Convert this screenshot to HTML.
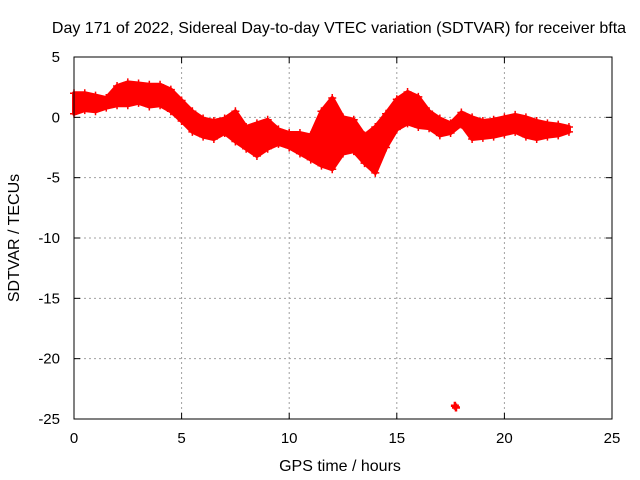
<!DOCTYPE html>
<html><head><meta charset="utf-8"><style>
body{margin:0;background:#fff}
svg{display:block;font-family:"Liberation Sans",sans-serif;font-size:15px}
</style></head><body>
<svg id="c" width="640" height="480">
<text x="339" y="33" text-anchor="middle" font-size="16">Day 171 of 2022, Sidereal Day-to-day VTEC variation (SDTVAR) for receiver bfta</text>
<text x="340" y="471" text-anchor="middle" font-size="16">GPS time / hours</text>
<text transform="translate(19,238) rotate(-90)" text-anchor="middle" font-size="16">SDTVAR / TECUs</text>
<g id="grid"></g><g id="data"></g><g id="axes"></g>
</svg>
<script>
const times=[0,0.5,1,1.5,2,2.5,3,3.5,4,4.5,5,5.5,6,6.5,7,7.5,8,8.5,9,9.5,10,10.5,11,11.5,12,12.5,13,13.5,14,14.5,15,15.5,16,16.5,17,17.5,18,18.5,19,19.5,20,20.5,21,21.5,22,22.5,23];
const upper=[2.0,2.0,1.8,1.6,2.6,2.9,2.8,2.7,2.7,2.3,1.4,0.5,-0.1,-0.3,-0.1,0.5,-0.8,-0.5,-0.2,-1.0,-1.3,-1.3,-1.5,0.5,1.6,0.0,-0.2,-1.5,-0.8,0.3,1.5,2.1,1.7,0.5,-0.1,-0.5,0.4,0.0,-0.3,-0.2,0.0,0.2,0.0,-0.3,-0.5,-0.6,-0.8];
const lower=[0.3,0.6,0.5,0.8,1.0,1.0,1.2,0.9,1.0,0.5,-0.3,-1.2,-1.6,-1.8,-1.3,-2.0,-2.6,-3.2,-2.6,-2.2,-2.5,-3.0,-3.5,-4.0,-4.3,-3.0,-2.8,-3.8,-4.6,-2.5,-1.0,-0.5,-0.8,-0.9,-1.5,-1.3,-0.6,-1.8,-1.7,-1.6,-1.4,-1.2,-1.6,-1.8,-1.6,-1.5,-1.2];
const outlierT=[17.7], outlierV=[-23.9];
const xTicks=[0,5,10,15,20,25], yTicks=[5,0,-5,-10,-15,-20,-25];
const X0=74,X1=612,Y0=57,Y1=419;
const sx=t=>X0+(t-0)/25*(X1-X0);
const sy=v=>Y0+(5-v)/30*(Y1-Y0);
const NS="http://www.w3.org/2000/svg";
function mk(tag,attrs,parent){const e=document.createElementNS(NS,tag);for(const k in attrs)e.setAttribute(k,attrs[k]);parent.appendChild(e);return e;}
const grid=document.getElementById('grid'),axes=document.getElementById('axes'),data=document.getElementById('data');
xTicks.forEach(t=>{
 if(t>0&&t<25){const l=mk('line',{x1:sx(t),x2:sx(t),y1:Y0,y2:Y1,stroke:'#a0a0a0','stroke-dasharray':'2,3'},grid);
 
 }
 const tx=mk('text',{x:sx(t),y:Y1+24,'text-anchor':'middle'},axes);tx.textContent=t;
 
 
 mk('line',{x1:sx(t),x2:sx(t),y1:Y1,y2:Y1-6,stroke:'#000'},axes);
 mk('line',{x1:sx(t),x2:sx(t),y1:Y0,y2:Y0+6,stroke:'#000'},axes);
});
yTicks.forEach(v=>{
 if(v<5&&v>-25){const l=mk('line',{x1:X0,x2:X1,y1:sy(v),y2:sy(v),stroke:'#a0a0a0','stroke-dasharray':'2,3'},grid);
 
 }
 const tx=mk('text',{x:X0-14,y:sy(v)+5,'text-anchor':'end'},axes);tx.textContent=v;
 
 
 mk('line',{x1:X0,x2:X0+6,y1:sy(v),y2:sy(v),stroke:'#000'},axes);
 mk('line',{x1:X1,x2:X1-6,y1:sy(v),y2:sy(v),stroke:'#000'},axes);
});
const box=mk('rect',{x:X0,y:Y0,width:X1-X0,height:Y1-Y0,fill:'none',stroke:'#000'},axes);


let pts=times.map((t,i)=>sx(t)+','+sy(upper[i]));
for(let i=times.length-1;i>=0;i--)pts.push(sx(times[i])+','+sy(lower[i]));
const band=mk('polygon',{points:pts.join(' '),fill:'#ff0000',stroke:'#ff0000','stroke-width':4,'stroke-linejoin':'round'},data);


function plus(t,v,w){const g=mk('path',{d:`M${sx(t)-4},${sy(v)}h8M${sx(t)},${sy(v)-4}v8`,stroke:'#ff0000','stroke-width':w},data);
 
 }
times.forEach((t,i)=>{plus(t,upper[i],1.5);plus(t,lower[i],1.5);});
outlierT.forEach((t,i)=>{plus(t,outlierV[i],2.5);plus(t+0.05,outlierV[i]-0.15,2.5);});
</script>
</body></html>
